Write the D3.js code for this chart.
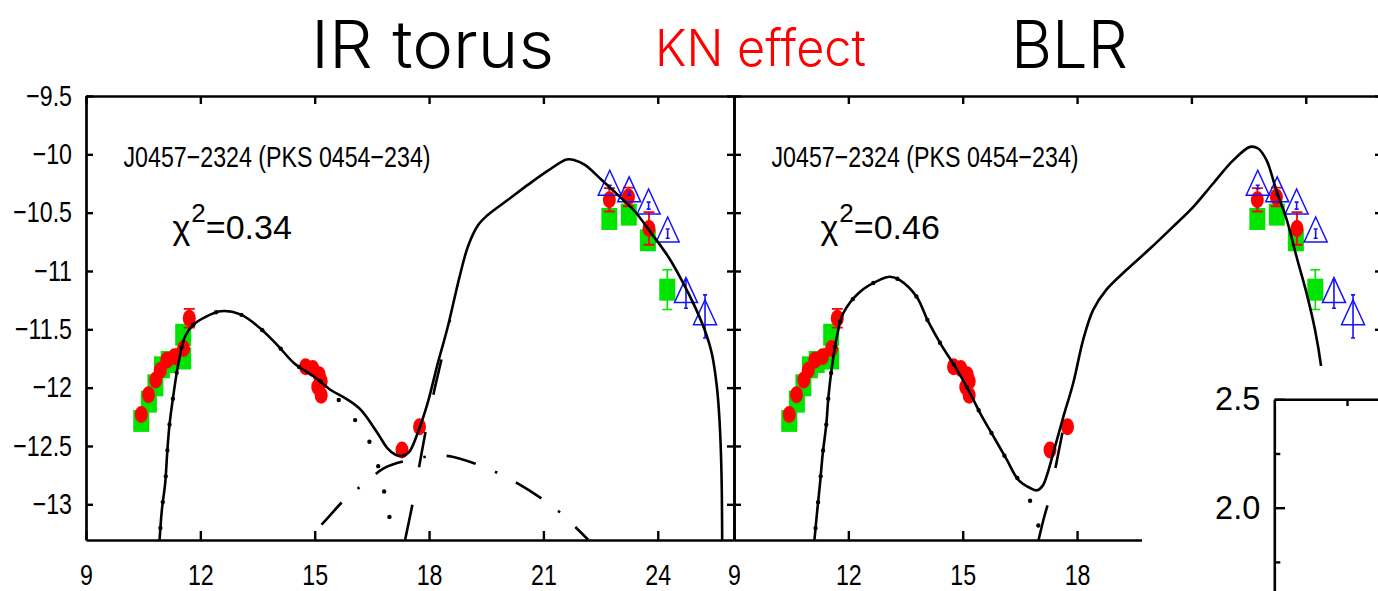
<!DOCTYPE html>
<html>
<head>
<meta charset="utf-8">
<script src="https://cdn.jsdelivr.net/npm/d3@7"></script>
<style>
  html, body { margin: 0; padding: 0; background: #fff; }
  svg { display: block; }
</style>
</head>
<body>
<svg id="chart" width="1378" height="591"></svg>
<script>
// ---------- axis ticks ----------
const xTicks = [9, 12, 15, 18, 21, 24];
const yTicks = [-9.5, -10, -10.5, -11, -11.5, -12, -12.5, -13];
const sourceName = "J0457\u22122324 (PKS 0454\u2212234)";
const chiSquared = ["0.34", "0.46"];
const headings = ["IR torus", "KN effect", "BLR"];

// ---------- observed SED (log nu, log nuFnu) ----------
// red circles
const redX   = [10.45, 10.64, 10.83, 10.95, 11.12, 11.32, 11.56, 11.71,
                14.76, 14.95, 15.12, 15.17, 15.08, 15.17, 17.29, 17.75,
                22.73, 23.23, 23.77];
const redY   = [-12.23, -12.06, -11.935, -11.85, -11.765, -11.735, -11.665, -11.405,
                -11.82, -11.835, -11.89, -11.945, -11.995, -12.065, -12.535, -12.335,
                -10.39, -10.365, -10.635];
const redErr = [0, 0, 0, 0, 0, 0, 0, 0.08,
                0, 0, 0, 0, 0, 0, 0, 0,
                0.1, 0.08, 0.14];
// green squares
const greenX   = [10.45, 10.65, 10.82, 10.99, 11.17, 11.55, 11.55, 22.73, 23.24, 23.74, 24.25];
const greenY   = [-12.285, -12.12, -11.98, -11.826, -11.78, -11.75, -11.547, -10.554, -10.517, -10.737, -11.16];
const greenErr = [0, 0, 0, 0, 0, 0, 0, 0, 0, 0, 0.17];
// blue open triangles (gamma-ray bins)
const blueX   = [22.74, 23.25, 23.76, 24.26, 24.74, 25.24];
const blueY   = [-10.28, -10.336, -10.44, -10.68, -11.2, -11.39];
const blueErr = [0.015, 0.015, 0.03, 0.04, 0.12, 0.185];

// ---------- model curves: IR torus case ----------
const torusTotal = [
  [10.93, -13.306], [10.99, -13.05], [11.08, -12.81], [11.13, -12.56], [11.19, -12.32],
  [11.29, -12.07], [11.42, -11.8], [11.6, -11.56], [11.82, -11.46], [12.1, -11.4],
  [12.53, -11.345], [13.05, -11.372], [13.53, -11.48], [14.02, -11.635], [14.46, -11.79],
  [14.98, -11.905], [15.42, -12.02],
  [15.85, -12.1], [16.21, -12.19], [16.65, -12.39], [16.91, -12.52], [17.12, -12.575],
  [17.3, -12.585], [17.48, -12.55], [17.7, -12.39], [17.96, -12.135], [18.23, -11.79],
  [18.49, -11.48], [18.8, -11.05], [19.02, -10.79], [19.28, -10.61], [19.54, -10.52],
  [20.07, -10.39], [20.6, -10.26], [21.12, -10.14], [21.61, -10.044], [21.82, -10.05],
  [22.09, -10.09], [22.53, -10.22], [22.96, -10.35], [23.4, -10.49], [23.84, -10.68],
  [24.28, -10.88], [24.63, -11.08], [24.98, -11.31], [25.27, -11.54], [25.42, -11.71],
  [25.55, -11.99], [25.62, -12.28], [25.67, -12.71], [25.69, -13.306]
];
const torusSyncTail = [[15.82, -12.19], [16.26, -12.36], [16.56, -12.56], [16.76, -12.8],
                       [16.91, -13.03], [17.07, -13.27], [17.1, -13.306]];
const torusEC = [[17.37, -13.306], [17.57, -12.99], [17.75, -12.66], [17.92, -12.36],
                 [18.14, -12.02], [18.36, -11.71], [18.55, -11.42]];
const torusHump = [[14.8, -13.306], [15.29, -13.135], [15.86, -12.935], [16.34, -12.815],
                   [16.82, -12.69], [17.48, -12.62], [18.05, -12.587], [18.58, -12.59],
                   [19.28, -12.66], [19.79, -12.73], [20.29, -12.815], [20.95, -12.95],
                   [21.4, -13.06], [22.18, -13.306]];

// ---------- model curves: BLR case ----------
const blrTotal = [
  [11.11, -13.306], [11.185, -13.05], [11.26, -12.81], [11.33, -12.56], [11.42, -12.32],
  [11.48, -12.07], [11.57, -11.82], [11.7, -11.56], [11.87, -11.36], [12.3, -11.18],
  [12.81, -11.078], [13.09, -11.05], [13.35, -11.078], [13.79, -11.22], [14.09, -11.43],
  [14.44, -11.635], [14.8, -11.82], [15.15, -12.02], [15.46, -12.22], [15.81, -12.42],
  [16.16, -12.62], [16.46, -12.79],
  [16.77, -12.86], [16.95, -12.88], [17.1, -12.84], [17.22, -12.74], [17.42, -12.507],
  [17.64, -12.25], [17.9, -11.96], [18.16, -11.59], [18.42, -11.335], [18.77, -11.16],
  [19.3, -10.99], [19.91, -10.81], [20.52, -10.62], [21.05, -10.45], [21.57, -10.25],
  [22.1, -10.05], [22.54, -9.936], [22.75, -9.95], [22.97, -10.05], [23.23, -10.31],
  [23.5, -10.56], [23.76, -10.88], [24.02, -11.19], [24.24, -11.5], [24.41, -11.835],
  [24.55, -12.3], [24.65, -13.306]
];
const blrSyncTail = [[16.81, -13.0], [17.0, -13.2], [17.1, -13.306]];
const blrEC = [[16.99, -13.306], [17.12, -13.13], [17.27, -12.95], [17.45, -12.66],
               [17.62, -12.38], [17.8, -12.1]];

// ---------- inset axis ----------
const insetMajor = [2.0, 2.5];
const insetMinor = [1.75, 2.25];
const insetTopTicks = [0.5];

// ---------- layout ----------
const svg = d3.select("#chart");
svg.append("rect").attr("width", 1378).attr("height", 591).attr("fill", "#fff");

const plotTop = 96, plotBottom = 540, panelW = 648;
const NARROW = 0.8;   // horizontal compression of the plot lettering
const y = d3.scaleLinear().domain([-13.306, -9.5]).range([plotBottom, plotTop]);
const minus = v => (v < 0 ? "\u2212" : "") + Math.abs(v);

// use a narrow face when one is installed, otherwise squeeze the regular one
const probe = svg.append("text").attr("font-size", 100).text("0123456789");
const regularW = probe.attr("font-family", "'Liberation Sans'").node().getComputedTextLength();
const narrowW = probe.attr("font-family", "'Liberation Sans Narrow', 'Liberation Sans'").node().getComputedTextLength();
probe.remove();
const hasNarrow = narrowW < 0.9 * regularW;
const AXIS_FONT = hasNarrow ? "'Liberation Sans Narrow', 'Liberation Sans', sans-serif"
                            : "'Liberation Sans', Arial, Helvetica, sans-serif";

function condense(sel, k) {
  if (hasNarrow) return;
  sel.each(function () {
    const w = this.getComputedTextLength();
    if (w > 0) {
      d3.select(this).attr("textLength", w * k).attr("lengthAdjust", "spacingAndGlyphs");
    }
  });
}

function drawPanel(x0, idx, total, syncTail, syncSplit, ec, hump) {
  const x = d3.scaleLinear().domain([9, 26]).range([x0, x0 + panelW]);
  const g = svg.append("g");

  const clipId = "clip" + idx;
  g.append("clipPath").attr("id", clipId)
    .append("rect").attr("x", x0).attr("y", plotTop)
    .attr("width", panelW).attr("height", plotBottom - plotTop);

  // ----- data markers -----
  const marks = g.append("g");
  // green squares with error bars
  greenX.forEach((gx, i) => {
    const cx = x(gx), cy = y(greenY[i]);
    if (greenErr[i] > 0) {
      const y1 = y(greenY[i] - greenErr[i]), y2 = y(greenY[i] + greenErr[i]);
      marks.append("path")
        .attr("d", `M${cx},${y1}V${y2}M${cx - 5},${y1}H${cx + 5}M${cx - 5},${y2}H${cx + 5}`)
        .attr("stroke", "#00e400").attr("stroke-width", 1.6).attr("fill", "none");
    }
    marks.append("rect").attr("x", cx - 8).attr("y", cy - 11)
      .attr("width", 16).attr("height", 22).attr("fill", "#00e400");
  });
  // red circles with error bars
  redX.forEach((rx, i) => {
    const cx = x(rx), cy = y(redY[i]);
    marks.append("ellipse").attr("cx", cx).attr("cy", cy)
      .attr("rx", 6.5).attr("ry", 8.5).attr("fill", "#ff0000");
    if (redErr[i] > 0) {
      const y1 = y(redY[i] - redErr[i]), y2 = y(redY[i] + redErr[i]);
      marks.append("path")
        .attr("d", `M${cx},${y1}V${y2}M${cx - 5.5},${y1}H${cx + 5.5}M${cx - 5.5},${y2}H${cx + 5.5}`)
        .attr("stroke", "#ff0000").attr("stroke-width", 1.8).attr("fill", "none");
    }
  });
  // blue open triangles
  blueX.forEach((bx, i) => {
    const cx = x(bx), cy = y(blueY[i]);
    marks.append("path")
      .attr("d", `M${cx},${cy - 16.7}L${cx + 11.5},${cy + 8.3}L${cx - 11.5},${cy + 8.3}Z`)
      .attr("fill", "none").attr("stroke", "#1414ff").attr("stroke-width", 1.5);
    const y1 = y(blueY[i] - blueErr[i]), y2 = y(blueY[i] + blueErr[i]);
    marks.append("path")
      .attr("d", `M${cx},${y1}V${y2}M${cx - 2},${y1}H${cx + 2}M${cx - 2},${y2}H${cx + 2}`)
      .attr("stroke", "#1414ff").attr("stroke-width", 1.6).attr("fill", "none");
  });

  // ----- model curves -----
  const line = d3.line().x(d => x(d[0])).y(d => y(d[1]))
    .curve(d3.curveCatmullRom.alpha(0.5));
  const curves = g.append("g").attr("clip-path", `url(#${clipId})`)
    .attr("fill", "none").attr("stroke", "#000");

  if (hump) {
    curves.append("path").attr("d", line(hump))
      .attr("stroke-width", 2.6).attr("stroke-dasharray", "30 21 2.5 21")
      .attr("stroke-dashoffset", 53.5);
  }
  curves.append("path").attr("d", line(ec))
    .attr("stroke-width", 2.6).attr("stroke-dasharray", "36 38");
  curves.append("path").attr("d", line(total))
    .attr("stroke-width", 2.6).attr("stroke-linejoin", "round");
  const sync = total.slice(0, syncSplit).concat(syncTail);
  curves.append("path").attr("d", line(sync))
    .attr("stroke-width", 4.4).attr("stroke-linecap", "round")
    .attr("stroke-dasharray", "0 26").attr("stroke-dashoffset", -12);

  // ----- frame & axes -----
  const styleAxis = a => {
    a.selectAll("path.domain").attr("stroke-width", 2.7);
    a.selectAll(".tick line").attr("stroke-width", 2.4);
    a.attr("font-family", AXIS_FONT).attr("font-size", 29);
    a.selectAll("text").attr("fill", "#000").call(condense, NARROW);
  };
  g.append("g").attr("transform", `translate(0,${plotBottom})`)
    .call(d3.axisBottom(x).tickValues(idx === 0 ? xTicks : xTicks.slice(0, 4))
      .tickSizeInner(-9).tickSizeOuter(0).tickPadding(24).tickFormat(d3.format("d")))
    .call(styleAxis);
  g.append("g").attr("transform", `translate(0,${plotTop})`)
    .call(d3.axisTop(x).tickValues(xTicks).tickSizeInner(-8).tickSizeOuter(0).tickFormat(""))
    .call(styleAxis);
  g.append("g").attr("transform", `translate(${x0},0)`)
    .call(d3.axisLeft(y).tickValues(yTicks).tickSizeInner(-7).tickSizeOuter(0)
      .tickPadding(14).tickFormat(idx === 0 ? minus : ""))
    .call(styleAxis);
  g.append("g").attr("transform", `translate(${x0 + panelW},0)`)
    .call(d3.axisRight(y).tickValues(yTicks).tickSizeInner(-7).tickSizeOuter(0).tickFormat(""))
    .call(styleAxis);

  // ----- annotations -----
  g.append("text").attr("x", x0 + 37.5).attr("y", 167.3)
    .attr("font-family", AXIS_FONT).attr("font-size", 29).attr("fill", "#000")
    .text(sourceName).call(condense, NARROW);
  const chi = g.append("text").attr("x", x0 + 86.5).attr("y", 239.3)
    .attr("font-family", "'Liberation Sans', Arial, sans-serif")
    .attr("font-size", 34).attr("fill", "#000");
  chi.append("tspan").text("\u03C7");
  chi.append("tspan").attr("font-size", 26).attr("dy", -17.6).attr("dx", 1).text("2");
  chi.append("tspan").attr("dy", 17.6).text("=" + chiSquared[idx]);
}

drawPanel(86, 0, torusTotal, torusSyncTail, 17, torusEC, torusHump);
drawPanel(734, 1, blrTotal, blrSyncTail, 22, blrEC, null);

// ---------- overlaid inset ----------
svg.append("rect").attr("x", 1142).attr("y", 366).attr("width", 236).attr("height", 225)
  .attr("fill", "#fff");
const ix = d3.scaleLinear().domain([0, 1]).range([1274.3, 1274.3 + 145.4]);
const iy = d3.scaleLinear().domain([1.6, 2.5]).range([399.3 + 0.9 * 216.8, 399.3]);
const inset = svg.append("g");
inset.append("g").attr("transform", "translate(1274.3,0)")
  .call(d3.axisLeft(iy).tickValues(insetMajor).tickSizeInner(-10.7).tickSizeOuter(0)
    .tickPadding(14).tickFormat(d3.format(".1f")))
  .call(a => {
    a.selectAll("path.domain").attr("stroke-width", 2.6);
    a.selectAll(".tick line").attr("stroke-width", 2.4);
    a.attr("font-family", "'Liberation Sans', Arial, sans-serif").attr("font-size", 32.5);
    a.selectAll("text").attr("fill", "#000");
  });
inset.append("g").attr("transform", "translate(1274.3,0)")
  .call(d3.axisLeft(iy).tickValues(insetMinor).tickSizeInner(-6).tickSizeOuter(0).tickFormat(""))
  .call(a => { a.select("path.domain").remove(); a.selectAll(".tick line").attr("stroke-width", 2.4); });
inset.append("g").attr("transform", "translate(0,399.3)")
  .call(d3.axisTop(ix).tickValues(insetTopTicks).tickSizeInner(-6.7).tickSizeOuter(0).tickFormat(""))
  .call(a => {
    a.selectAll("path.domain").attr("stroke-width", 2.6);
    a.selectAll(".tick line").attr("stroke-width", 2.4);
  });

// ---------- headings ----------
const HEAD_FONT = "Inter, Lato, 'Noto Sans', sans-serif";
const headingSpec = [
  { x: 311, y: 68, size: 66, len: 243, color: "#000" },
  { x: 655, y: 66, size: 51, len: 211, color: "#ff0000" },
  { x: 1011, y: 68, size: 66, len: 117, color: "#000" }
];
headings.forEach((t, i) => {
  const s = headingSpec[i];
  svg.append("text").attr("x", s.x).attr("y", s.y)
    .attr("font-family", HEAD_FONT).attr("font-weight", 300)
    .attr("font-size", s.size).attr("fill", s.color)
    .attr("textLength", s.len).attr("lengthAdjust", "spacingAndGlyphs")
    .text(t);
});
</script>
</body>
</html>
